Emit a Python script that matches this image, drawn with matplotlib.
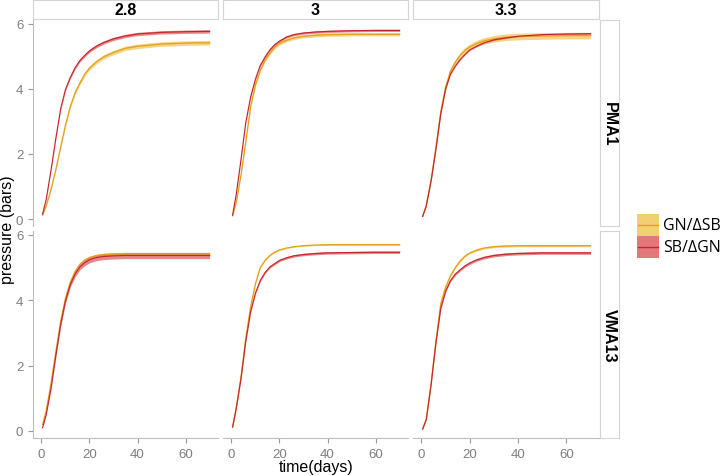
import matplotlib
matplotlib.use("Agg")
import matplotlib.pyplot as plt
import numpy as np

# time grid (days)
t = [0.5, 2, 4, 6, 8, 10, 12, 14, 16, 18, 20, 23, 26, 30, 35, 40, 50, 60, 70]

cols = ['2.8', '3', '3.3']
rows = ['PMA1', 'VMA13']
series = ['GN/\u0394SB', 'SB/\u0394GN']

# pressure (bars), [row][col]
gn = [
    [[0.12, 0.4, 0.9, 1.52, 2.2, 2.88, 3.45, 3.88, 4.18, 4.45, 4.64, 4.84, 4.99, 5.12, 5.25, 5.31, 5.38, 5.41, 5.42],
     [0.1, 0.5, 1.35, 2.38, 3.45, 4.12, 4.57, 4.88, 5.1, 5.28, 5.4, 5.5, 5.57, 5.62, 5.65, 5.67, 5.68, 5.68, 5.68],
     [0.08, 0.42, 1.2, 2.2, 3.3, 4.05, 4.55, 4.82, 5.03, 5.18, 5.29, 5.4, 5.48, 5.54, 5.59, 5.61, 5.63, 5.64, 5.64]],
    [[0.2, 0.62, 1.45, 2.42, 3.35, 4.05, 4.55, 4.88, 5.1, 5.23, 5.31, 5.37, 5.4, 5.41, 5.42, 5.42, 5.42, 5.42, 5.42],
     [0.12, 0.7, 1.65, 2.85, 3.8, 4.5, 5.0, 5.22, 5.37, 5.47, 5.54, 5.6, 5.64, 5.67, 5.69, 5.7, 5.7, 5.7, 5.7],
     [0.06, 0.35, 1.45, 2.75, 3.9, 4.4, 4.75, 5.0, 5.2, 5.35, 5.45, 5.54, 5.6, 5.64, 5.66, 5.67, 5.67, 5.67, 5.67]],
]
sb = [
    [[0.15, 0.6, 1.5, 2.48, 3.38, 3.98, 4.35, 4.65, 4.87, 5.03, 5.17, 5.32, 5.43, 5.54, 5.63, 5.69, 5.74, 5.76, 5.77],
     [0.12, 0.75, 1.83, 2.97, 3.75, 4.3, 4.72, 4.98, 5.2, 5.36, 5.47, 5.6, 5.67, 5.72, 5.75, 5.77, 5.79, 5.8, 5.8],
     [0.08, 0.4, 1.17, 2.15, 3.23, 4.0, 4.45, 4.7, 4.9, 5.06, 5.2, 5.32, 5.42, 5.51, 5.57, 5.62, 5.67, 5.69, 5.7]],
    [[0.1, 0.5, 1.3, 2.3, 3.25, 3.98, 4.48, 4.8, 5.02, 5.15, 5.24, 5.31, 5.34, 5.36, 5.37, 5.37, 5.37, 5.37, 5.37],
     [0.12, 0.68, 1.6, 2.75, 3.65, 4.22, 4.6, 4.85, 5.02, 5.12, 5.22, 5.3, 5.36, 5.4, 5.43, 5.45, 5.46, 5.47, 5.47],
     [0.06, 0.35, 1.42, 2.7, 3.75, 4.28, 4.6, 4.8, 4.93, 5.05, 5.14, 5.24, 5.31, 5.37, 5.41, 5.43, 5.45, 5.45, 5.45]],
]
# relative half-width of the confidence ribbons
gn_err = [[0.013, 0.009, 0.018], [0.004, 0.003, 0.006]]
sb_err = [[0.009, 0.006, 0.003], [0.018, 0.007, 0.008]]

gn_fill, gn_line = '#f2c75c', '#e3a11c'
sb_fill, sb_line = '#e06060', '#c4262e'
grey = '#bdbdbd'

plt.rcParams['font.family'] = ['Liberation Sans', 'DejaVu Sans']

W, H = 722, 477
fig = plt.figure(figsize=(W / 100, H / 100), dpi=100)


def box(x0, y0, x1, y1):
    # pixel box (top-left origin) -> figure axes rect
    return [x0 / W, 1 - y1 / H, (x1 - x0) / W, (y1 - y0) / H]


xs = [(33, 218), (223, 408), (413, 599)]
ys = [(21, 227), (232, 439)]
tt = np.array(t)

for r in range(2):
    for c in range(3):
        ax = fig.add_axes(box(xs[c][0], ys[r][0], xs[c][1], ys[r][1]))
        g = np.array(gn[r][c])
        s = np.array(sb[r][c])
        ax.fill_between(tt, g * (1 - gn_err[r][c]), g * (1 + gn_err[r][c]),
                        color=gn_fill, alpha=0.75, lw=0)
        ax.fill_between(tt, s * (1 - sb_err[r][c]), s * (1 + sb_err[r][c]),
                        color=sb_fill, alpha=0.75, lw=0)
        ax.plot(tt, g, color=gn_line, lw=0.95)
        ax.plot(tt, s, color=sb_line, lw=0.85)
        ax.set_xlim(-3.5, 73.5)
        ax.set_ylim(-0.215, 6.12)
        for sp in ax.spines.values():
            sp.set_visible(False)
        ax.tick_params(colors='#9a9a9a', labelcolor='#7f7f7f', labelsize=9.5,
                       length=3.5, width=0.8)
        ax.set_xticks([0, 20, 40, 60])
        ax.set_yticks([0, 2, 4, 6])
        if c == 0:
            ax.spines['left'].set_visible(True)
            ax.spines['left'].set_color(grey)
        else:
            ax.tick_params(axis='y', left=False, labelleft=False)
        if r == 1:
            ax.spines['bottom'].set_visible(True)
            ax.spines['bottom'].set_color(grey)
        else:
            ax.tick_params(axis='x', bottom=False, labelbottom=False)

# facet strips
for c in range(3):
    sa = fig.add_axes(box(xs[c][0], 1, xs[c][1], 20))
    sa.set_xticks([]); sa.set_yticks([])
    for sp in sa.spines.values():
        sp.set_color('#d4d4d4')
    sa.text(0.5, 0.5, cols[c], ha='center', va='center', fontsize=11.5,
            fontweight='bold', transform=sa.transAxes)
for r in range(2):
    sa = fig.add_axes(box(600, ys[r][0], 619, ys[r][1]))
    sa.set_xticks([]); sa.set_yticks([])
    for sp in sa.spines.values():
        sp.set_color('#d4d4d4')
    sa.text(0.5, 0.5, rows[r], ha='center', va='center', fontsize=11.5,
            fontweight='bold', rotation=-90, transform=sa.transAxes)

fig.text(8 / W, 1 - 230 / H, 'pressure (bars)', rotation=90, ha='center',
         va='center', fontsize=11.5)
fig.text(316 / W, 1 - 468 / H, 'time(days)', ha='center', va='center',
         fontsize=11.5)

# legend
la = fig.add_axes(box(637, 215, 720, 259))
la.set_xlim(0, 83)
la.set_ylim(44, 0)
la.axis('off')
for i, (lab, fc, lc) in enumerate([(series[0], gn_fill, gn_line),
                                   (series[1], sb_fill, sb_line)]):
    y0 = i * 22
    la.add_patch(plt.Rectangle((0, y0), 22, 22, color=fc, alpha=0.85, lw=0))
    la.plot([1, 21], [y0 + 11, y0 + 11], color=lc, lw=1.0)
    la.text(26, y0 + 11, lab, ha='left', va='center', fontsize=11.5,
            family=['Open Sans', 'DejaVu Sans'])

fig.savefig('out.png', dpi=100)
